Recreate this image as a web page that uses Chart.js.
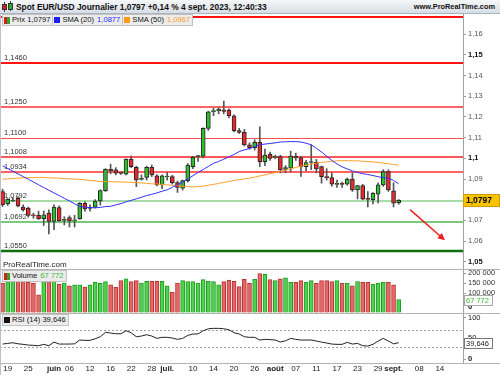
<!DOCTYPE html>
<html lang="fr">
<head>
<meta charset="utf-8">
<script src="https://cdn.jsdelivr.net/npm/chart.js@4.4.0/dist/chart.umd.min.js"></script>
<style>
  html, body { margin: 0; padding: 0; background: #fff; }
  #cadre { position: relative; width: 500px; height: 375px; overflow: hidden; font-family: "Liberation Sans", Arial, sans-serif; }
  #titre { position: absolute; left: 0; top: 0; width: 500px; height: 14px; box-sizing: border-box;
           background: linear-gradient(#f6f8fa, #d6dde4); border-bottom: 1px solid #a9b4be; }
  #titre .txt { position: absolute; left: 16px; top: 1px; font-size: 8.4px; font-weight: bold; color: #111; line-height: 12px; }
  #titre .site { position: absolute; right: 5px; top: 1px; font-size: 7.4px; font-weight: bold; color: #111; line-height: 12px; }
  .bougie { position: absolute; width: 3px; border: 1px solid #333; }
  .meche { position: absolute; width: 1px; background: #333; }
  #zone { position: absolute; left: 0; top: 14px; width: 500px; height: 361px; }
  #bord { position: absolute; left: 0; top: 14px; width: 1px; height: 361px; background: #b7c2cc; }
  .legende { position: absolute; left: 2px; display: flex; }
  .case { height: 10px; line-height: 10px; padding: 0 2px 0 1px; background: #ececec; border: 1px solid #c2c2c2;
          font-size: 7.6px; color: #111; white-space: nowrap; display: flex; align-items: center; }
  .case + .case { border-left: none; }
  .carre { display: inline-block; width: 6px; height: 6px; margin-right: 2px; }
  .rv { display: inline-block; width: 6px; height: 7px; margin-right: 2px;
        background: linear-gradient(90deg, #d42020 50%, #2aa82a 50%); }
  .val { margin-left: 3px; }
</style>
</head>
<body>
<div id="cadre">
  <div id="titre">
    <span class="meche" style="left:4px; top:2px; height:10px"></span>
    <span class="bougie" style="left:2px; top:4px; height:4px; background:#d42020"></span>
    <span class="meche" style="left:10px; top:1px; height:10px"></span>
    <span class="bougie" style="left:8px; top:3px; height:5px; background:#2aa82a"></span>
    <span class="txt">Spot EUR/USD Journalier 1,0797 +0,14 % 4 sept. 2023, 12:40:33</span>
    <span class="site">www.ProRealTime.com</span>
  </div>
  <div id="zone"><canvas id="graphe" width="500" height="361"></canvas></div>
  <div id="bord"></div>
  <div class="legende" style="top:14px">
    <span class="case"><span class="rv"></span>Prix 1,0797</span>
    <span class="case"><span class="carre" style="background:#1c1cf5"></span>SMA (20)<span class="val" style="color:#2a2af5">1,0877</span></span>
    <span class="case"><span class="carre" style="background:#ff9a1a"></span>SMA (50)<span class="val" style="color:#ff9a1a">1,0967</span></span>
  </div>
  <div class="legende" style="top:270px">
    <span class="case"><span class="rv"></span>Volume<span class="val" style="color:#36b836">67 772</span></span>
  </div>
  <div class="legende" style="top:314px">
    <span class="case"><span class="carre" style="background:#111"></span>RSI (14) 39,646</span>
  </div>
</div>
<script>
'use strict';

// jours de cotation (mois-jour), les 12 derniers sont à venir
const jours = [
    '05-18', '05-19', '05-22', '05-23', '05-24', '05-25', '05-26', '05-29', '05-30', '05-31',
    '06-01', '06-02', '06-05', '06-06', '06-07', '06-08', '06-09', '06-12', '06-13', '06-14',
    '06-15', '06-16', '06-19', '06-20', '06-21', '06-22', '06-23', '06-26', '06-27', '06-28',
    '06-29', '06-30', '07-03', '07-04', '07-05', '07-06', '07-07', '07-10', '07-11', '07-12',
    '07-13', '07-14', '07-17', '07-18', '07-19', '07-20', '07-21', '07-24', '07-25', '07-26',
    '07-27', '07-28', '07-31', '08-01', '08-02', '08-03', '08-04', '08-07', '08-08', '08-09',
    '08-10', '08-11', '08-14', '08-15', '08-16', '08-17', '08-18', '08-21', '08-22', '08-23',
    '08-24', '08-25', '08-28', '08-29', '08-30', '08-31', '09-01', '09-04', '09-05', '09-06',
    '09-07', '09-08', '09-11', '09-12', '09-13', '09-14', '09-15', '09-18', '09-19', '09-20',
];

const etiquettesX = {
    '05-19': '19', '05-25': '25', '06-01': 'juin', '06-06': '06', '06-12': '12', '06-16': '16',
    '06-22': '22', '06-28': '28', '07-03': 'juil.', '07-10': '10', '07-14': '14', '07-20': '20',
    '07-26': '26', '08-01': 'août', '08-07': '07', '08-11': '11', '08-17': '17', '08-23': '23',
    '08-29': '29', '09-01': 'sept.', '09-08': '08', '09-14': '14',
};
const moisX = ['juin', 'juil.', 'août', 'sept.'];

const ouverture = [
    1.0839, 1.0780, 1.0794, 1.0807, 1.0764, 1.0759, 1.0725, 1.0724, 1.0708, 1.0735,
    1.0695, 1.0762, 1.0700, 1.0714, 1.0698, 1.0708, 1.0783, 1.0758, 1.0764, 1.0794,
    1.0844, 1.0947, 1.0944, 1.0930, 1.0923, 1.0996, 1.0957, 1.0898, 1.0908, 1.0957,
    1.0915, 1.0872, 1.0910, 1.0912, 1.0883, 1.0856, 1.0892, 1.0960, 1.1008, 1.1011,
    1.1145, 1.1226, 1.1229, 1.1235, 1.1233, 1.1206, 1.1134, 1.1126, 1.1065, 1.1052,
    1.1078, 1.0984, 1.1020, 1.1005, 1.1008, 1.0947, 1.0952, 1.1011, 1.1003, 1.0960,
    1.0980, 1.0981, 1.0960, 1.0912, 1.0907, 1.0874, 1.0875, 1.0875, 1.0900, 1.0847,
    1.0868, 1.0805, 1.0800, 1.0827, 1.0872, 1.0936, 1.0843, 1.0786,
];
const plusHaut = [
    1.0851, 1.0806, 1.0810, 1.0815, 1.0775, 1.0765, 1.0735, 1.0745, 1.0746, 1.0751,
    1.0775, 1.0770, 1.0718, 1.0722, 1.0725, 1.0786, 1.0790, 1.0775, 1.0800, 1.0848,
    1.0950, 1.0972, 1.0955, 1.0935, 1.0998, 1.1012, 1.0962, 1.0920, 1.0962, 1.0968,
    1.0922, 1.0920, 1.0932, 1.0918, 1.0890, 1.0895, 1.0975, 1.1008, 1.1015, 1.1148,
    1.1228, 1.1242, 1.1245, 1.1277, 1.1240, 1.1210, 1.1145, 1.1140, 1.1075, 1.1090,
    1.1153, 1.1045, 1.1030, 1.1015, 1.1015, 1.0965, 1.1035, 1.1025, 1.1010, 1.0990,
    1.1065, 1.0995, 1.0963, 1.0950, 1.0930, 1.0895, 1.0885, 1.0905, 1.0930, 1.0870,
    1.0875, 1.0840, 1.0835, 1.0882, 1.0945, 1.0945, 1.0882, 1.0801,
];
const plusBas = [
    1.0767, 1.0772, 1.0790, 1.0765, 1.0745, 1.0715, 1.0710, 1.0705, 1.0675, 1.0635,
    1.0655, 1.0695, 1.0678, 1.0668, 1.0668, 1.0705, 1.0745, 1.0745, 1.0760, 1.0774,
    1.0840, 1.0925, 1.0920, 1.0922, 1.0920, 1.0955, 1.0863, 1.0895, 1.0895, 1.0912,
    1.0867, 1.0853, 1.0895, 1.0875, 1.0835, 1.0847, 1.0885, 1.0950, 1.0985, 1.1002,
    1.1135, 1.1206, 1.1215, 1.1215, 1.1195, 1.1128, 1.1120, 1.1060, 1.1045, 1.1040,
    1.0960, 1.0965, 1.0990, 1.0998, 1.0930, 1.0930, 1.0935, 1.0990, 1.0913, 1.0940,
    1.0945, 1.0930, 1.0880, 1.0895, 1.0865, 1.0860, 1.0860, 1.0870, 1.0840, 1.0804,
    1.0800, 1.0765, 1.0780, 1.0785, 1.0865, 1.0840, 1.0765, 1.0778,
];
const cloture = [
    1.0775, 1.0803, 1.0797, 1.0770, 1.0751, 1.0724, 1.0722, 1.0708, 1.0727, 1.0695,
    1.0764, 1.0698, 1.0703, 1.0698, 1.0702, 1.0783, 1.0755, 1.0762, 1.0794, 1.0844,
    1.0947, 1.0940, 1.0928, 1.0927, 1.0996, 1.0960, 1.0896, 1.0902, 1.0957, 1.0920,
    1.0872, 1.0915, 1.0913, 1.0883, 1.0860, 1.0892, 1.0968, 1.1005, 1.1011, 1.1145,
    1.1225, 1.1230, 1.1238, 1.1227, 1.1206, 1.1134, 1.1126, 1.1065, 1.1052, 1.1078,
    1.0984, 1.1016, 1.1000, 1.1008, 1.0944, 1.0955, 1.1011, 1.1003, 1.0960, 1.0979,
    1.0981, 1.0949, 1.0912, 1.0907, 1.0875, 1.0876, 1.0874, 1.0900, 1.0847, 1.0868,
    1.0803, 1.0802, 1.0832, 1.0872, 1.0936, 1.0847, 1.0783, 1.0797,
];

const sma20 = [
    1.0964, 1.0951, 1.0938, 1.0925, 1.0912, 1.0899, 1.0886, 1.0872, 1.0859, 1.0846,
    1.0833, 1.0820, 1.0807, 1.0794, 1.0780, 1.0768, 1.0764, 1.0762, 1.0761, 1.0763,
    1.0767, 1.0768, 1.0775, 1.0781, 1.0790, 1.0797, 1.0804, 1.0812, 1.0820, 1.0826,
    1.0833, 1.0841, 1.0848, 1.0860, 1.0872, 1.0886, 1.0901, 1.0916, 1.0932, 1.0946,
    1.0961, 1.0976, 1.0985, 1.0996, 1.1007, 1.1019, 1.1033, 1.1041, 1.1047, 1.1057,
    1.1066, 1.1069, 1.1072, 1.1075, 1.1079, 1.1080, 1.1081, 1.1081, 1.1079, 1.1073,
    1.1066, 1.1048, 1.1031, 1.1011, 1.0990, 1.0973, 1.0959, 1.0949, 1.0939, 1.0932,
    1.0926, 1.0922, 1.0917, 1.0911, 1.0907, 1.0904, 1.0893, 1.0877,
];
const sma50 = [
    1.0899, 1.0901, 1.0903, 1.0904, 1.0906, 1.0907, 1.0907, 1.0908, 1.0908, 1.0906,
    1.0905, 1.0904, 1.0902, 1.0901, 1.0900, 1.0898, 1.0896, 1.0893, 1.0891, 1.0888,
    1.0888, 1.0887, 1.0886, 1.0886, 1.0885, 1.0884, 1.0882, 1.0881, 1.0879, 1.0877,
    1.0876, 1.0874, 1.0872, 1.0870, 1.0868, 1.0865, 1.0863, 1.0862, 1.0863, 1.0866,
    1.0870, 1.0874, 1.0879, 1.0884, 1.0888, 1.0893, 1.0897, 1.0901, 1.0904, 1.0909,
    1.0915, 1.0920, 1.0926, 1.0931, 1.0937, 1.0943, 1.0950, 1.0956, 1.0962, 1.0967,
    1.0972, 1.0977, 1.0981, 1.0983, 1.0986, 1.0988, 1.0989, 1.0989, 1.0988, 1.0988,
    1.0986, 1.0984, 1.0983, 1.0980, 1.0977, 1.0974, 1.0970, 1.0967,
];

const volumes = [
    151000, 158000, 163000, 163000, 158000, 155000, 151000, 92000, 163000, 163000,
    166000, 146000, 151000, 137000, 142000, 142000, 131000, 142000, 155000, 149000,
    158000, 142000, 131000, 163000, 172000, 158000, 163000, 151000, 160000, 160000,
    160000, 160000, 137000, 105000, 151000, 163000, 158000, 158000, 151000, 168000,
    160000, 158000, 142000, 158000, 166000, 160000, 133000, 170000, 149000, 170000,
    199000, 195000, 168000, 163000, 172000, 177000, 155000, 155000, 163000, 155000,
    163000, 149000, 163000, 163000, 158000, 163000, 151000, 151000, 137000, 158000,
    155000, 155000, 146000, 151000, 155000, 155000, 142000, 67772,
];

const rsi14 = [
    36.4, 38.0, 39.5, 37.0, 35.7, 34.0, 33.3, 32.4, 35.7, 32.4,
    41.2, 36.4, 36.4, 36.4, 37.0, 46.0, 45.3, 45.3, 49.1, 53.9,
    64.4, 62.8, 61.1, 61.1, 68.3, 63.5, 53.9, 55.6, 58.7, 55.6,
    50.0, 52.5, 52.5, 50.8, 47.7, 50.0, 57.2, 60.4, 60.8, 68.3,
    73.0, 74.0, 74.0, 73.0, 70.7, 63.5, 60.4, 53.9, 52.5, 52.5,
    46.0, 47.7, 47.0, 46.0, 41.2, 44.3, 50.0, 47.7, 46.0, 46.0,
    46.0, 43.6, 41.2, 38.8, 36.4, 35.7, 35.7, 40.5, 36.4, 38.0,
    32.4, 31.6, 35.7, 43.6, 50.0, 43.6, 37.0, 39.646,
];

const ticksPrix = [1.05, 1.06, 1.07, 1.08, 1.09, 1.10, 1.11, 1.12, 1.13, 1.14, 1.15, 1.16];
const ticksVolume = [0, 100000, 150000, 200000];
const ticksRsi = [0, 50, 100];
const zonesRsi = [70, 30];

// supports / résistances tracés sur le graphique des prix
const niveaux = [1.1685, 1.1460, 1.1250, 1.1100, 1.1008, 1.0934, 1.0792, 1.0692, 1.0550];
const styleNiveaux = [
    { c: '#ff1414', w: 2 }, { c: '#ff1414', w: 2 }, { c: '#ff3030', w: 1.5 }, { c: '#ff5050', w: 1 },
    { c: '#ff2020', w: 1.5 }, { c: '#ff3030', w: 1.5 }, { c: '#a6dca6', w: 2 }, { c: '#4fb44f', w: 1.5 },
    { c: '#0d700d', w: 2.5 },
];

// flèche de tendance (indice du jour, prix)
const fleche = [[79.2, 1.0752], [86.0, 1.0604]];

const VERT = '#2ebf2e';
const ROUGE = '#ea2a2a';
const POLICE = '"Liberation Sans", Arial, sans-serif';

const hausse = ouverture.map((o, i) => cloture[i] >= o);

const fmtPrix = (v) => String(Number(v.toFixed(2))).replace('.', ',');
const fmtNiveau = (v) => v.toFixed(4).replace('.', ',');
const fmtVolume = (v) => String(v).replace(/\B(?=(\d{3})+(?!\d))/g, ' ');

const estRond = (c) => {
    const v = c.tick ? c.tick.value : NaN;
    return Math.abs(v * 20 - Math.round(v * 20)) < 1e-6;
};

const ajusterAxeY = (s) => {
    s.width = 37;
    s.paddingTop = 0;
    s.paddingBottom = 0;
};

const boite = (ctx, x, y, w, h, fond, bord) => {
    ctx.fillStyle = fond;
    ctx.fillRect(x, y, w, h);
    ctx.strokeStyle = bord;
    ctx.lineWidth = 1;
    ctx.strokeRect(x + 0.5, y + 0.5, w - 1, h - 1);
};

const decor = {
    id: 'decor',
    beforeDatasetsDraw(chart) {
        const { ctx, chartArea, scales } = chart;
        ctx.save();
        ctx.font = `7.5px ${POLICE}`;
        ctx.textBaseline = 'bottom';
        niveaux.forEach((v, k) => {
            const st = styleNiveaux[k];
            let py = Math.round(scales.y.getPixelForValue(v));
            if (st.w % 2 === 1) py += 0.5;
            ctx.strokeStyle = st.c;
            ctx.lineWidth = st.w;
            ctx.beginPath();
            ctx.moveTo(chartArea.left, py);
            ctx.lineTo(chartArea.right, py);
            ctx.stroke();
            ctx.fillStyle = '#333';
            ctx.fillText(fmtNiveau(v), 4, py - 1.5);
        });
        ctx.setLineDash([2, 2]);
        ctx.strokeStyle = '#a0a0a0';
        ctx.lineWidth = 1;
        zonesRsi.forEach((v) => {
            const py = Math.round(scales.yr.getPixelForValue(v)) + 0.5;
            ctx.beginPath();
            ctx.moveTo(chartArea.left, py);
            ctx.lineTo(chartArea.right, py);
            ctx.stroke();
        });
        ctx.restore();
    },
    afterDatasetsDraw(chart) {
        const { ctx, scales } = chart;
        const [a, b] = fleche.map(([i, p]) => [scales.x.getPixelForValue(i), scales.y.getPixelForValue(p)]);
        const ang = Math.atan2(b[1] - a[1], b[0] - a[0]);
        ctx.save();
        ctx.strokeStyle = '#f01c1c';
        ctx.fillStyle = '#f01c1c';
        ctx.lineWidth = 1.5;
        ctx.beginPath();
        ctx.moveTo(a[0], a[1]);
        ctx.lineTo(b[0] - 5 * Math.cos(ang), b[1] - 5 * Math.sin(ang));
        ctx.stroke();
        ctx.beginPath();
        ctx.moveTo(b[0], b[1]);
        ctx.lineTo(b[0] - 8 * Math.cos(ang - 0.45), b[1] - 8 * Math.sin(ang - 0.45));
        ctx.lineTo(b[0] - 8 * Math.cos(ang + 0.45), b[1] - 8 * Math.sin(ang + 0.45));
        ctx.closePath();
        ctx.fill();
        ctx.restore();
    },
    afterDraw(chart) {
        const { ctx, chartArea, scales, width } = chart;
        const n = cloture.length - 1;
        ctx.save();
        ctx.strokeStyle = '#b4b4b4';
        ctx.lineWidth = 1;
        [scales.yv.top, scales.yr.top, scales.x.top].forEach((t) => {
            const py = Math.round(t) + 0.5;
            ctx.beginPath();
            ctx.moveTo(0, py);
            ctx.lineTo(width, py);
            ctx.stroke();
        });

        ctx.textBaseline = 'middle';
        ctx.font = `8px ${POLICE}`;
        ctx.fillStyle = '#222';
        ctx.fillText('ProRealTime.com', 3, scales.y.bottom - 4);

        ctx.font = `bold 7.5px ${POLICE}`;
        ctx.fillStyle = '#111';
        ctx.fillText('0', chartArea.right + 5, scales.yv.getPixelForValue(0) - 6);

        const yp = Math.round(scales.y.getPixelForValue(cloture[n]));
        boite(ctx, chartArea.right, yp - 6, 37, 13, '#f8c400', '#d49a00');
        ctx.font = `bold 8.5px ${POLICE}`;
        ctx.fillStyle = '#000';
        ctx.fillText(fmtNiveau(cloture[n]), chartArea.right + 3, yp + 0.5);

        const yv = Math.round(scales.yv.getPixelForValue(volumes[n]));
        boite(ctx, chartArea.right + 1, yv - 5, 29, 11, '#fff', '#a8a8a8');
        ctx.font = `7.5px ${POLICE}`;
        ctx.fillStyle = '#33b833';
        ctx.fillText(fmtVolume(volumes[n]), chartArea.right + 3, yv + 0.5);

        const yr = Math.round(scales.yr.getPixelForValue(rsi14[n]));
        boite(ctx, chartArea.right + 1, yr - 5, 29, 11, '#fff', '#777');
        ctx.fillStyle = '#222';
        ctx.fillText(rsi14[n].toFixed(3).replace('.', ','), chartArea.right + 3, yr + 0.5);
        ctx.restore();
    },
};

const axeDroit = (extra) => ({
    type: 'linear',
    position: 'right',
    stack: 'panneaux',
    afterFit: ajusterAxeY,
    grid: { drawOnChartArea: false, tickLength: 3, color: '#9a9a9a' },
    border: { color: '#a0a0a0' },
    ...extra,
});

new Chart(document.getElementById('graphe'), {
    type: 'bar',
    data: {
        labels: jours,
        datasets: [
            {
                type: 'line',
                data: sma20,
                yAxisID: 'y',
                borderColor: '#3030ff',
                borderWidth: 1,
                pointRadius: 0,
                tension: 0,
            },
            {
                type: 'line',
                data: sma50,
                yAxisID: 'y',
                borderColor: '#ffa028',
                borderWidth: 1,
                pointRadius: 0,
                tension: 0,
            },
            {
                data: ouverture.map((o, i) => [o, cloture[i]]),
                yAxisID: 'y',
                grouped: false,
                barThickness: 4,
                minBarLength: 1,
                backgroundColor: hausse.map((h) => (h ? VERT : ROUGE)),
                borderColor: '#262626',
                borderWidth: 1,
                borderSkipped: false,
            },
            {
                data: plusBas.map((l, i) => [l, plusHaut[i]]),
                yAxisID: 'y',
                grouped: false,
                barThickness: 1,
                backgroundColor: '#555',
            },
            {
                data: volumes,
                yAxisID: 'yv',
                grouped: false,
                barThickness: 4,
                backgroundColor: hausse.map((h) => (h ? '#4cd24c' : '#e46868')),
                borderColor: hausse.map((h) => (h ? '#239a23' : '#b83232')),
                borderWidth: 1,
                borderSkipped: 'bottom',
            },
            {
                type: 'line',
                data: rsi14,
                yAxisID: 'yr',
                borderColor: '#222',
                borderWidth: 1,
                pointRadius: 0,
                tension: 0,
            },
        ],
    },
    options: {
        responsive: false,
        devicePixelRatio: 1,
        animation: false,
        events: [],
        layout: { padding: 0 },
        plugins: { legend: { display: false }, tooltip: { enabled: false } },
        scales: {
            x: {
                type: 'category',
                offset: true,
                grid: { display: false, drawTicks: false, tickLength: 0 },
                border: { color: '#a0a0a0' },
                afterFit: (s) => { s.height = 12; s.paddingLeft = 0; s.paddingRight = 0; },
                ticks: {
                    autoSkip: false,
                    maxRotation: 0,
                    padding: 1,
                    color: '#222',
                    font: (c) => ({
                        family: POLICE,
                        size: 8,
                        weight: c.index !== undefined && moisX.includes(etiquettesX[jours[c.index]]) ? 'bold' : 'normal',
                    }),
                    callback: (v, i) => etiquettesX[jours[i]] || '',
                },
            },
            y: axeDroit({
                stackWeight: 255,
                min: 1.0465,
                max: 1.1698,
                afterBuildTicks: (s) => { s.ticks = ticksPrix.map((v) => ({ value: v })); },
                ticks: {
                    autoSkip: false,
                    padding: 2,
                    color: (c) => (estRond(c) ? '#111' : '#555'),
                    font: (c) => ({ family: POLICE, size: 7.5, weight: estRond(c) ? 'bold' : 'normal' }),
                    callback: (v) => fmtPrix(v),
                },
            }),
            yv: axeDroit({
                stackWeight: 44,
                min: 0,
                max: 221700,
                afterBuildTicks: (s) => { s.ticks = ticksVolume.map((v) => ({ value: v })); },
                ticks: {
                    autoSkip: false,
                    padding: 2,
                    color: '#333',
                    font: { family: POLICE, size: 7.5 },
                    callback: (v) => (v === 0 ? '' : fmtVolume(v)),
                },
            }),
            yr: axeDroit({
                stackWeight: 50,
                min: -9,
                max: 110.8,
                afterBuildTicks: (s) => { s.ticks = ticksRsi.map((v) => ({ value: v })); },
                ticks: {
                    autoSkip: false,
                    padding: 2,
                    color: '#222',
                    font: (c) => ({ family: POLICE, size: 7.5, weight: c.tick && c.tick.value === 0 ? 'bold' : 'normal' }),
                    callback: (v) => String(v),
                },
            }),
        },
    },
    plugins: [decor],
});
</script>
</body>
</html>
